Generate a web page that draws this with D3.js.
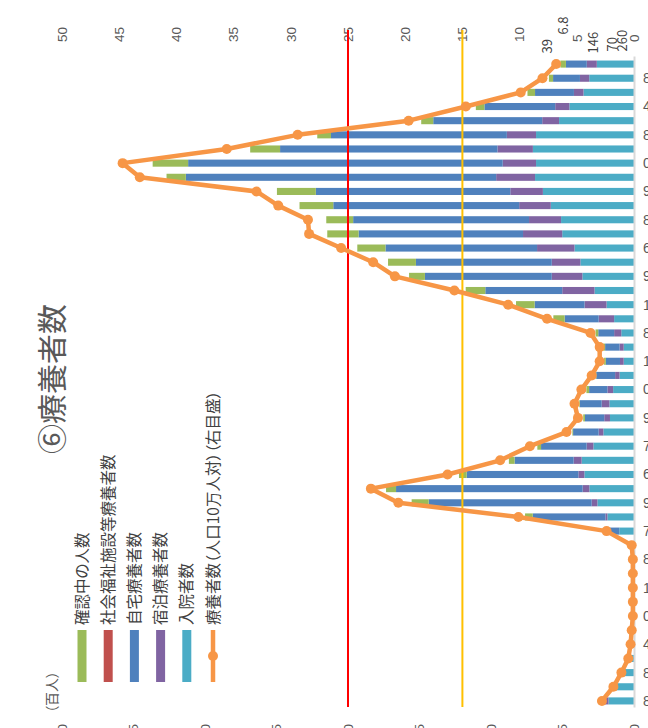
<!DOCTYPE html>
<html>
<head>
<meta charset="utf-8">
<script src="https://cdn.jsdelivr.net/npm/d3@7"></script>
<style>
html,body{margin:0;padding:0;background:#fff;}
svg{display:block;font-family:'Noto Sans CJK JP','Noto Sans',sans-serif;font-feature-settings:'palt';}
</style>
</head>
<body>
<svg id="chart" width="648" height="728"></svg>
<script>
// ---- data (chronological order, earliest week first) ----
const dateLabels = ["8","","8","","4","","0","","1","","8","","7","","9","","6","","7","","9","","0","","1","","8","","1","","9","","6","","8","","9","","0","","8","","4","","8",""];
// 入院者数 (百人)
const hospitalized = [1.78,1.25,0.8,0.35,0.2,0.12,0.08,0.08,0.08,0.08,0.08,0.15,1.03,1.86,2.56,3.12,3.47,3.66,2.84,2.14,1.68,1.72,1.46,1.01,0.72,0.72,0.89,1.39,1.92,2.76,3.61,3.75,4.16,5.02,5.10,5.82,6.37,6.92,6.85,7.07,6.85,5.24,4.52,3.53,3.13,2.60];
// 宿泊療養者数 (百人)
const hotel = [0.25,0.1,0,0,0,0,0,0,0,0,0,0,0,0.14,0.40,0.47,0.42,0.56,0.47,0.33,0.40,0.54,0.40,0.31,0.26,0.29,0.50,1.08,1.54,2.26,2.14,2.00,2.62,2.74,2.24,2.21,2.28,2.72,2.33,2.48,2.04,1.18,0.99,0.67,0.65,0.70];
// 自宅療養者数 (百人)
const home = [0.05,0,0,0,0,0,0,0,0,0,0,0,0.95,5.08,11.4,13.05,7.81,4.13,3.19,1.79,1.35,1.52,1.28,1.32,0.99,1.01,1.11,2.38,3.49,5.38,8.87,9.50,10.6,11.5,12.3,13.0,13.6,21.7,22.0,15.2,12.3,7.62,4.95,2.72,1.88,1.46];
// 社会福祉施設等療養者数 (百人)
const welfare = [0,0,0,0,0,0,0,0,0,0,0,0,0,0,0,0,0,0,0,0,0,0,0,0,0,0,0,0,0,0,0,0,0,0,0,0,0,0,0,0,0,0,0,0,0,0];
// 確認中の人数 (百人)
const confirming = [0,0,0,0,0,0,0,0,0,0,0,0,0,0.54,1.19,0.70,0.54,0.40,0.26,0.05,0.12,0.05,0.19,0.05,0.12,0.14,0.19,0.79,1.30,1.37,1.11,1.95,1.97,2.19,1.88,2.36,2.72,1.35,2.48,2.09,0.96,0.84,0.60,0.53,0.29,0.39];
// 療養者数（人口10万人対）
const perCapita = [2.8,1.8,1.1,0.5,0.3,0.2,0.1,0.1,0.1,0.1,0.1,0.2,2.4,10.1,20.6,23.0,16.3,11.7,9.1,5.9,4.9,5.2,4.6,3.7,3.0,3.0,3.8,7.6,11.0,15.7,20.9,22.8,25.6,28.4,28.5,31.1,33.0,43.2,44.7,35.6,29.4,19.7,14.7,9.9,8.0,6.8];
const stageLines = [25, 15];
const leftTicks = [0,5,10,15,20,25,30,35,40];
const rightTicks = [0,5,10,15,20,25,30,35,40,45,50];
const lastLabels = ["260","70","146","6.8","39"];

const seriesKeys = ["hospitalized","hotel","home","welfare","confirming"];
const seriesNames = {confirming:"確認中の人数", welfare:"社会福祉施設等療養者数", home:"自宅療養者数", hotel:"宿泊療養者数", hospitalized:"入院者数"};
const colors = {confirming:"#9BBB59", welfare:"#C0504D", home:"#4F81BD", hotel:"#8064A2", hospitalized:"#4BACC6"};
const lineColor = "#F79646";

const n = perCapita.length;
const rows = d3.range(n).map(i => ({i, hospitalized:hospitalized[i], hotel:hotel[i], home:home[i], welfare:welfare[i], confirming:confirming[i]}));

const svg = d3.select("#chart");
svg.append("rect").attr("width",648).attr("height",728).attr("fill","#fff");
// whole chart is rotated 90° counter-clockwise
const g = svg.append("g").attr("transform","translate(0,728) rotate(-90)");

const x = d3.scaleBand().domain(d3.range(n)).range([20,671]).paddingInner(0.5).paddingOuter(0.25);
const yL = d3.scaleLinear().domain([0,40]).range([634,62]);
const yR = d3.scaleLinear().domain([0,50]).range([634,62]);

// stacked bars
const stacked = d3.stack().keys(seriesKeys)(rows);
g.append("g").selectAll("g").data(stacked).join("g")
  .attr("fill", d => colors[d.key])
  .selectAll("rect").data(d => d).join("rect")
  .attr("x", d => x(d.data.i))
  .attr("width", x.bandwidth())
  .attr("y", d => yL(d[1]))
  .attr("height", d => Math.max(0, yL(d[0]) - yL(d[1])));

// category axis
const xAxis = g.append("g").attr("transform","translate(0,634)")
  .call(d3.axisBottom(x).tickSize(0).tickSizeOuter(0).tickFormat(i => dateLabels[i]));
xAxis.select(".domain").attr("stroke","#D9D9D9").attr("stroke-width",2);
xAxis.selectAll("text")
  .attr("y",0).attr("x",9).attr("dy","0.35em")
  .attr("transform","rotate(90)")
  .style("text-anchor","start")
  .attr("fill","#595959").style("font-size","14px");

// left axis (百人)
const lAxis = g.append("g").attr("transform","translate(7,0)")
  .call(d3.axisLeft(yL).tickValues(leftTicks).tickSize(0).tickPadding(3));
lAxis.select(".domain").remove();
lAxis.selectAll("text").attr("fill","#595959").style("font-size","13.5px");

// right axis (人口10万人対)
const rAxis = g.append("g").attr("transform","translate(683,0)")
  .call(d3.axisRight(yR).tickValues(rightTicks).tickSize(0).tickPadding(3));
rAxis.select(".domain").remove();
rAxis.selectAll("text").attr("fill","#595959").style("font-size","13.5px");

// stage threshold lines
const stageColors = ["#FF0000","#FFC000"];
g.append("g").selectAll("line").data(stageLines).join("line")
  .attr("x1",21).attr("x2",698)
  .attr("y1", d => yR(d)).attr("y2", d => yR(d))
  .attr("stroke",(d,i) => stageColors[i]).attr("stroke-width",2);

// per-capita line
const line = d3.line().x((d,i) => x(i) + x.bandwidth()/2).y(d => yR(d));
g.append("path").datum(perCapita)
  .attr("d", line).attr("fill","none")
  .attr("stroke", lineColor).attr("stroke-width",4.5).attr("stroke-linejoin","round");
g.append("g").selectAll("circle").data(perCapita).join("circle")
  .attr("cx",(d,i) => x(i) + x.bandwidth()/2)
  .attr("cy", d => yR(d))
  .attr("r",5).attr("fill",lineColor);

// data labels of latest week
const lastU = x(n-1) + x.bandwidth();
const lastPos = [[9,622],[9,612],[7,593.5],[26,563],[7,547]];
g.append("g").selectAll("text").data(lastLabels).join("text")
  .attr("x",(d,i) => lastU + lastPos[i][0])
  .attr("y",(d,i) => lastPos[i][1])
  .attr("dy","0.35em")
  .attr("fill","#404040").style("font-size","13px")
  .text(d => d);

// title
g.append("text").attr("x",349).attr("y",52).attr("dy","0.36em")
  .attr("text-anchor","middle").attr("fill","#595959")
  .style("font-size","30px").text("⑥療養者数");

// unit
g.append("text").attr("x",15).attr("y",52).attr("dy","0.36em")
  .attr("fill","#595959").style("font-size","14px").text("（百人）");

// legend
const legendItems = ["confirming","welfare","home","hotel","hospitalized","line"];
const legendV = d3.scalePoint().domain(legendItems).range([82,213]);
const lg = g.append("g");
legendItems.forEach(k => {
  const v = legendV(k);
  if (k === "line") {
    lg.append("line").attr("x1",46).attr("x2",98).attr("y1",v).attr("y2",v)
      .attr("stroke",lineColor).attr("stroke-width",4.5);
    lg.append("circle").attr("cx",72).attr("cy",v).attr("r",5).attr("fill",lineColor);
  } else {
    lg.append("rect").attr("x",46).attr("width",52).attr("y",v-4.5).attr("height",9).attr("fill",colors[k]);
  }
  lg.append("text").attr("x",103).attr("y",v).attr("dy","0.36em")
    .attr("fill","#404040").style("font-size","15.5px")
    .text(k === "line" ? "療養者数（人口10万人対）（右目盛）" : seriesNames[k]);
});
</script>
</body>
</html>
